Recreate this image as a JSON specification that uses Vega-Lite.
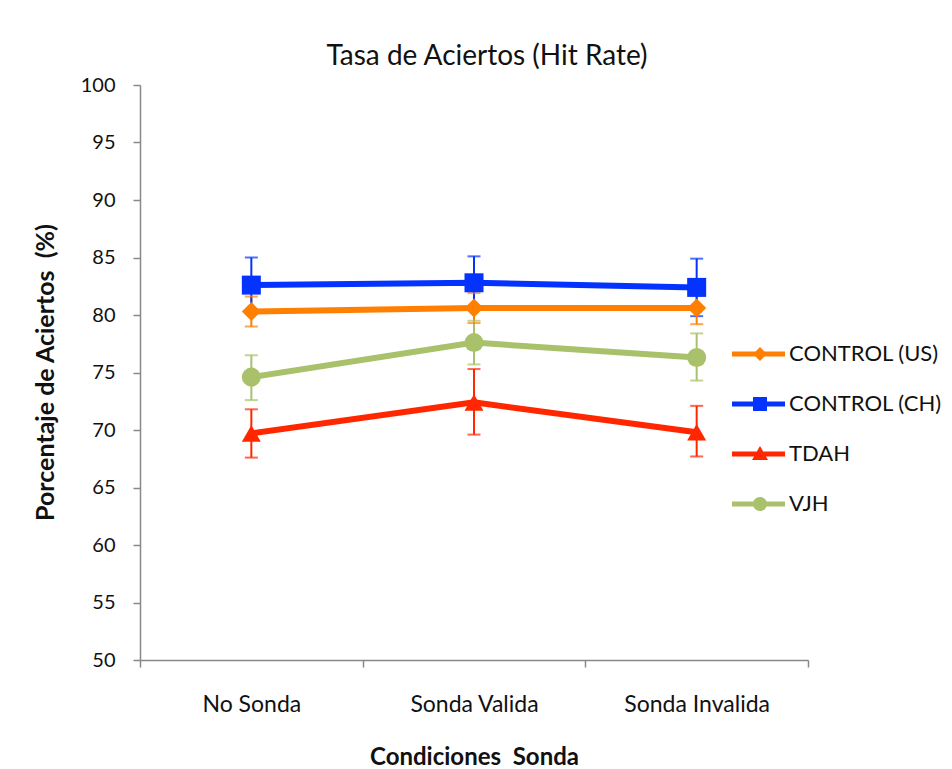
{
  "$schema": "https://vega.github.io/schema/vega-lite/v6.json",
  "width": 668,
  "height": 575,
  "autosize": {"type": "none"},
  "padding": {"left": 140, "top": 85, "right": 144, "bottom": 109},
  "background": "white",
  "title": {
    "text": "Tasa de Aciertos (Hit Rate)",
    "font": "Lato",
    "fontSize": 28,
    "fontWeight": "normal",
    "color": "#111111",
    "anchor": "middle",
    "dx": 13,
    "offset": 4
  },
  "data": {
    "values": [
      {"cond": "No Sonda", "group": "CONTROL (US)", "mean": 80.3, "lo": 79.0, "hi": 81.6},
      {"cond": "No Sonda", "group": "CONTROL (CH)", "mean": 82.6, "lo": 80.2, "hi": 85.0},
      {"cond": "No Sonda", "group": "TDAH", "mean": 69.7, "lo": 67.6, "hi": 71.8},
      {"cond": "No Sonda", "group": "VJH", "mean": 74.6, "lo": 72.6, "hi": 76.5},
      {"cond": "Sonda Valida", "group": "CONTROL (US)", "mean": 80.6, "lo": 79.3, "hi": 81.9},
      {"cond": "Sonda Valida", "group": "CONTROL (CH)", "mean": 82.8, "lo": 80.5, "hi": 85.1},
      {"cond": "Sonda Valida", "group": "TDAH", "mean": 72.4, "lo": 69.6, "hi": 75.3},
      {"cond": "Sonda Valida", "group": "VJH", "mean": 77.6, "lo": 75.7, "hi": 79.5},
      {"cond": "Sonda Invalida", "group": "CONTROL (US)", "mean": 80.6, "lo": 79.2, "hi": 82.0},
      {"cond": "Sonda Invalida", "group": "CONTROL (CH)", "mean": 82.4, "lo": 79.9, "hi": 84.9},
      {"cond": "Sonda Invalida", "group": "TDAH", "mean": 69.8, "lo": 67.7, "hi": 72.1},
      {"cond": "Sonda Invalida", "group": "VJH", "mean": 76.3, "lo": 74.3, "hi": 78.4}
    ]
  },
  "encoding": {
    "x": {
      "field": "cond",
      "type": "nominal",
      "sort": ["No Sonda", "Sonda Valida", "Sonda Invalida"],
      "scale": {"paddingInner": 0, "paddingOuter": 0},
      "axis": {
        "title": "Condiciones\u00a0 Sonda",
        "titleFont": "Lato",
        "titleFontSize": 24,
        "titleFontWeight": "bold",
        "titleColor": "#111111",
        "titleY": 97,
        "titleBaseline": "middle",
        "labelFont": "Lato",
        "labelFontSize": 23,
        "labelColor": "#111111",
        "labelAngle": 0,
        "labelPadding": 26,
        "tickBand": "extent",
        "tickSize": 7,
        "tickColor": "#888888",
        "tickWidth": 1.5,
        "domainColor": "#888888",
        "domainWidth": 1.5,
        "grid": false
      }
    },
    "color": {
      "field": "group",
      "type": "nominal",
      "scale": {
        "domain": ["CONTROL (US)", "CONTROL (CH)", "TDAH", "VJH"],
        "range": ["#FF7F00", "#0433FF", "#FF2600", "#A9C16A"]
      },
      "legend": null
    }
  },
  "resolve": {"scale": {"color": "independent", "shape": "independent"}},
  "layer": [
    {
      "transform": [{"filter": "false"}],
      "mark": {"type": "point", "filled": true, "size": 4, "opacity": 1},
      "encoding": {
        "y": {"field": "mean", "type": "quantitative"},
        "color": {
          "field": "group",
          "type": "nominal",
          "scale": {
            "domain": ["CONTROL (US)", "CONTROL (CH)", "TDAH", "VJH"],
            "range": ["#FF7F00", "#0433FF", "#FF2600", "#A9C16A"]
          },
          "legend": {
            "title": null,
            "orient": "none",
            "legendX": 609,
            "legendY": 258,
            "padding": 0,
            "symbolSize": 4,
            "symbolStrokeWidth": 0,
            "symbolOpacity": 1,
            "labelOffset": 18,
            "rowPadding": 28,
            "labelFont": "Lato",
            "labelFontSize": 22,
            "labelColor": "#111111"
          }
        },
        "shape": {
          "field": "group",
          "type": "nominal",
          "scale": {
            "domain": ["CONTROL (US)", "CONTROL (CH)", "TDAH", "VJH"],
            "range": [
              "M-28,-2.5H25V2.5H-28Z M0,-7L7,0L0,7L-7,0Z",
              "M-28,-2.5H25V2.5H-28Z M-7,-7H7V7H-7Z",
              "M-28,-2.5H25V2.5H-28Z M0,-8L8,6H-8Z",
              "M-28,-2.5H25V2.5H-28Z M-7,0A7,7 0 1,1 7,0A7,7 0 1,1 -7,0Z"
            ]
          },
          "legend": {
            "title": null,
            "orient": "none",
            "legendX": 609,
            "legendY": 258,
            "padding": 0,
            "symbolSize": 4,
            "symbolStrokeWidth": 0,
            "symbolOpacity": 1,
            "labelOffset": 18,
            "rowPadding": 28,
            "labelFont": "Lato",
            "labelFontSize": 22,
            "labelColor": "#111111"
          }
        }
      }
    },
    {
      "mark": {"type": "rule", "strokeWidth": 2},
      "encoding": {
        "y": {
          "field": "lo",
          "type": "quantitative",
          "scale": {"domain": [50, 100], "nice": false, "zero": false},
          "axis": {
            "title": "Porcentaje de Aciertos\u00a0 (%)",
            "titleFont": "Lato",
            "titleFontSize": 25,
            "titleFontWeight": "bold",
            "titleColor": "#111111",
            "titleX": -95,
            "titleY": 287,
            "titleBaseline": "middle",
            "titleAngle": 270,
            "values": [50, 55, 60, 65, 70, 75, 80, 85, 90, 95, 100],
            "labelFont": "Lato",
            "labelFontSize": 20,
            "labelColor": "#111111",
            "labelPadding": 18,
            "tickSize": 7,
            "tickColor": "#888888",
            "tickWidth": 1.5,
            "domainColor": "#888888",
            "domainWidth": 1.5,
            "grid": false
          }
        },
        "y2": {"field": "hi"}
      }
    },
    {
      "mark": {"type": "tick", "size": 13, "thickness": 2},
      "encoding": {"y": {"field": "lo", "type": "quantitative"}}
    },
    {
      "mark": {"type": "tick", "size": 13, "thickness": 2},
      "encoding": {"y": {"field": "hi", "type": "quantitative"}}
    },
    {
      "mark": {"type": "line", "strokeWidth": 6},
      "encoding": {"y": {"field": "mean", "type": "quantitative"}}
    },
    {
      "mark": {"type": "point", "filled": true, "size": 361, "opacity": 1},
      "encoding": {
        "y": {"field": "mean", "type": "quantitative"},
        "shape": {
          "field": "group",
          "type": "nominal",
          "scale": {
            "domain": ["CONTROL (US)", "CONTROL (CH)", "TDAH", "VJH"],
            "range": ["diamond", "square", "triangle-up", "circle"]
          },
          "legend": null
        }
      }
    }
  ],
  "config": {"view": {"stroke": null}}
}
